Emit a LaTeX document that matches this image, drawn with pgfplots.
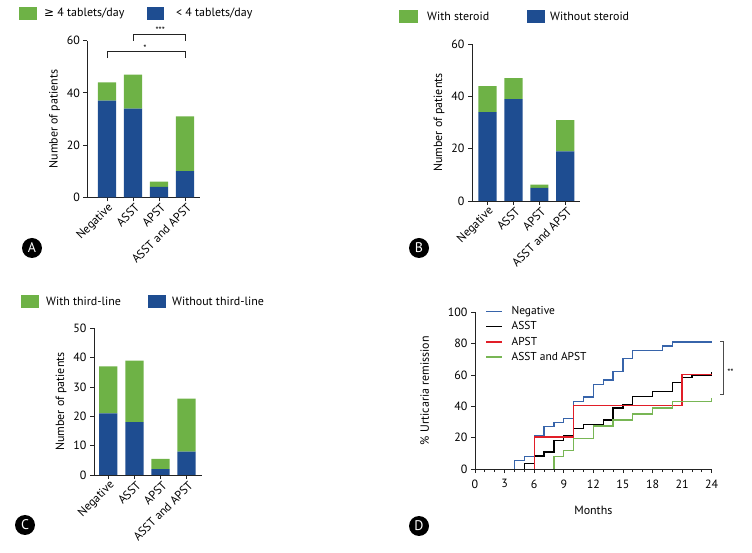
\documentclass[border=0pt]{standalone}
\usepackage{pgfplots}
\pgfplotsset{compat=1.18}
\usepackage{fontspec}
\setmainfont{PT Sans}
\newfontfamily\sym{DejaVu Sans}
\definecolor{barblue}{RGB}{30,77,145}
\definecolor{bargreen}{RGB}{110,178,70}
\definecolor{lblue}{RGB}{55,100,170}
\definecolor{lgreen}{RGB}{120,182,85}
\definecolor{lred}{RGB}{225,30,40}
\definecolor{axgray}{RGB}{35,35,35}
\pgfplotsset{
  common/.style={
    scale only axis,
    axis x line*=bottom, axis y line*=left,
    axis line style={line width=0.8pt, axgray},
    tick style={line width=0.8pt, axgray},
    tick align=outside, major tick length=4bp, minor tick length=3bp,
    font=\fontsize{12}{14}\selectfont,
    /pgf/number format/assume math mode=true,
    clip=false,
  },
  barax/.style={
    common,
    ybar stacked, bar width=0.7, ymin=0,
    xtick={0,1,2,3},
    xticklabels={Negative,ASST,APST,ASST and APST},
    x tick label style={rotate=45, anchor=east, inner sep=1pt, yshift=-6bp, xshift=1bp},
    ylabel={Number of patients},
  },
}
\begin{document}
\begin{tikzpicture}
\useasboundingbox (0,0) rectangle (752bp,553bp);
% ---------------- Panel A
\begin{axis}[barax, at={(87.3bp,355.7bp)}, anchor=south west,
  width=112.7bp, height=156.6bp, xmin=-0.76, xmax=3.58, ymax=60,
  ytick={0,20,40,60}]
\addplot[fill=barblue, draw=none] coordinates {(0,37) (1,34) (2,4) (3,10)};
\addplot[fill=bargreen, draw=none] coordinates {(0,7) (1,13) (2,2) (3,21)};
\draw[axgray, line width=0.8pt] (axis cs:1,60) -- (axis cs:1,62.6) -- (axis cs:3,62.6) -- (axis cs:3,60);
\node[font=\fontsize{9}{10}\selectfont, anchor=south, inner sep=0.5pt] at (axis cs:2.05,62.4) {***};
\draw[axgray, line width=0.8pt] (axis cs:0,53.3) -- (axis cs:0,55.8) -- (axis cs:3,55.8) -- (axis cs:3,53.3);
\node[font=\fontsize{9}{10}\selectfont, anchor=south, inner sep=0.5pt] at (axis cs:1.46,55.6) {*};
\end{axis}
% ---------------- Panel B
\begin{axis}[barax, at={(472bp,352bp)}, anchor=south west,
  width=108bp, height=156.7bp, xmin=-0.6, xmax=3.57, ymax=60,
  ytick={0,20,40,60}]
\addplot[fill=barblue, draw=none] coordinates {(0,34) (1,39) (2,5) (3,19)};
\addplot[fill=bargreen, draw=none] coordinates {(0,10) (1,8) (2,1.3) (3,12)};
\end{axis}
% ---------------- Panel C
\begin{axis}[barax, at={(94bp,78bp)}, anchor=south west,
  width=107.7bp, height=146.7bp, xmin=-0.55, xmax=3.58, ymax=50,
  ytick={0,10,20,30,40,50}]
\addplot[fill=barblue, draw=none] coordinates {(0,21) (1,18) (2,2) (3,8)};
\addplot[fill=bargreen, draw=none] coordinates {(0,16) (1,21) (2,3.5) (3,18)};
\end{axis}
% ---------------- Panel D
\begin{axis}[common, at={(475bp,84bp)}, anchor=south west,
  width=236.7bp, height=156.7bp, xmin=0, xmax=24, ymin=0, ymax=100,
  xtick={0,3,...,24}, minor x tick num=2, ytick={0,20,...,100},
  x tick label style={yshift=-3bp},
  xlabel={Months}, ylabel={\% Urticaria remission},
  ylabel style={yshift=12bp}, xlabel style={yshift=-11bp},
  legend cell align=left,
  legend image code/.code={\draw[#1, line width=1.8pt] (0bp,0bp) -- (16bp,0bp);},
  legend style={at={(0.03,1.06)}, anchor=north west, draw=none, fill=none,
    font=\fontsize{11.5}{13}\selectfont, row sep=2.5bp,
    nodes={inner sep=1.5pt},
    /tikz/every odd column/.append style={column sep=7bp}},
  const plot]
\addplot[lblue, line width=1.3pt] coordinates {(4,0) (4,5.4) (5,8.1) (6,21.6) (7,27) (8,29.7) (9,32.4) (10,43.2) (11,45.9) (12,54.1) (13,56.8) (14,62.2) (15,70.3) (16,75.7) (19,78.4) (20,81.1) (24,81.1)};
\addlegendentry{Negative}
\addplot[black, line width=1.3pt] coordinates {(5,0) (5,3.6) (6,8.3) (7,10.9) (8,18) (9,21.5) (10,26) (11,28.5) (13,31.3) (14,39) (15,40.9) (16,46.2) (18,49.4) (20,55.3) (21,58.3) (22,60) (24,60) (24,61.8)};
\addlegendentry{ASST}
\addplot[lred, line width=1.3pt] coordinates {(6,0) (6,20.5) (10,40.5) (21,60.5) (24,60.5)};
\addlegendentry{APST}
\addplot[lgreen, line width=1.3pt] coordinates {(8,0) (8,7.9) (9,11.7) (10,19.6) (12,27.5) (14,31.3) (16,35.1) (18,39) (20,43) (24,43) (24,45.5)};
\addlegendentry{ASST and APST}
\draw[black!70, line width=0.9pt] (axis cs:24.85,81.3) -- (axis cs:25.2,81.3) -- (axis cs:25.2,47.7) -- (axis cs:24.85,47.7);
\node[font=\fontsize{9}{10}\selectfont] at (axis cs:25.9,61.5) {**};
\end{axis}
% ---------------- legends of bar panels
\begin{scope}[font=\fontsize{12}{14}\selectfont]
\fill[bargreen] (19bp,533bp) rectangle (37bp,546bp);
\node[anchor=west, inner sep=0pt] at (44bp,539.5bp) {{\sym ≥} 4 tablets/day};
\fill[barblue] (147bp,533bp) rectangle (164bp,546bp);
\node[anchor=west, inner sep=0pt] at (176bp,539.5bp) {< 4 tablets/day};
\fill[bargreen] (399bp,530bp) rectangle (418bp,543bp);
\node[anchor=west, inner sep=0pt] at (427bp,536.5bp) {With steroid};
\fill[barblue] (527bp,530bp) rectangle (545bp,543bp);
\node[anchor=west, inner sep=0pt] at (550bp,536.5bp) {Without steroid};
\fill[bargreen] (21bp,245bp) rectangle (39bp,258bp);
\node[anchor=west, inner sep=0pt] at (46bp,251.5bp) {With third-line};
\fill[barblue] (148bp,245bp) rectangle (166bp,258bp);
\node[anchor=west, inner sep=0pt] at (172bp,251.5bp) {Without third-line};
\end{scope}
% ---------------- panel letters
\foreach \px/\py/\l in {32/305/A, 419/305/B, 25/28/C, 419/27/D}{
  \fill[black] (\px bp,\py bp) circle (10bp);
  \node[white, font=\fontsize{14}{16}\selectfont] at (\px bp,\py bp) {\l};
}
\end{tikzpicture}
\end{document}
